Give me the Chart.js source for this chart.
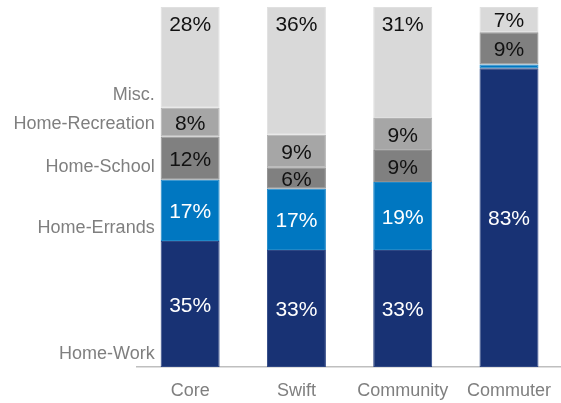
<!DOCTYPE html>
<html lang="en">
<head>
  <meta charset="UTF-8" />
  <title>Trip purpose by segment</title>
  <script src="https://cdn.jsdelivr.net/npm/chart.js"></script>
  <style>
    html, body {
      margin: 0;
      padding: 0;
      background: #fff;
      overflow: hidden;
    }
    .chart-container {
      width: 564px;
      height: 403px;
    }
  </style>
</head>
<body>

  <div class="chart-container">
    <canvas id="tripChart"></canvas>
  </div>

<script>
  // categories and series (percent of trips)
  const segments = ['Core', 'Swift', 'Community', 'Commuter'];
  const purposes = ['Home-Work', 'Home-Errands', 'Home-School', 'Home-Recreation', 'Misc.'];

  const homeWork       = [35, 32.5, 32.5, 83];
  const homeErrands    = [17, 17, 18.9, 1];
  const homeSchool     = [12, 6, 8.9, 9];
  const homeRecreation = [8, 9, 8.9, 0];
  const misc           = [28, 35.5, 30.8, 7];

  const colors = ['#183274', '#0077c1', '#808080', '#a6a6a6', '#d9d9d9'];
  const edgeColors = ['#2f4784', '#1f88c8', '#8f8f8f', '#b2b2b2', '#e0e0e0'];
  const textColors = ['#ffffff', '#ffffff', '#111111', '#111111', '#111111'];

  const series = [homeWork, homeErrands, homeSchool, homeRecreation, misc];

  const fontFamily = 'Arial, "Liberation Sans", sans-serif';

  // draws the % labels inside the bars and the purpose names left of the first bar
  const labelPlugin = {
    id: 'segmentLabels',
    afterDatasetsDraw(chart) {
      const ctx = chart.ctx;
      ctx.save();
      chart.data.datasets.forEach((ds, i) => {
        const meta = chart.getDatasetMeta(i);
        meta.data.forEach((bar, j) => {
          const v = ds.data[j];
          if (v < 3) return;
          const top = Math.min(bar.y, bar.base);
          const bottom = Math.max(bar.y, bar.base);
          let y = (top + bottom) / 2 + 2;
          if (i === series.length - 1) y = Math.min(y, top + 18);
          ctx.font = '21px ' + fontFamily;
          ctx.fillStyle = textColors[i];
          ctx.textAlign = 'center';
          ctx.textBaseline = 'middle';
          ctx.fillText(Math.round(v) + '%', bar.x, y);
        });

        // series name next to the Core bar
        const first = meta.data[0];
        ctx.font = '18px ' + fontFamily;
        ctx.fillStyle = '#7f7f7f';
        ctx.textAlign = 'right';
        ctx.textBaseline = 'middle';
        ctx.fillText(ds.label, first.x - first.width / 2 - 6, Math.max(first.y, first.base) - 13);
      });
      ctx.restore();
    }
  };

  function criarGrafico(ctx) {
    return new Chart(ctx, {
      type: 'bar',
      data: {
        labels: segments,
        datasets: purposes.map((name, i) => ({
          label: name,
          data: series[i],
          backgroundColor: colors[i],
          borderColor: edgeColors[i],
          borderWidth: 1,
          borderSkipped: false,
          categoryPercentage: 1,
          barPercentage: 0.555
        }))
      },
      options: {
        responsive: true,
        maintainAspectRatio: false,
        animation: false,
        layout: {
          padding: { left: 137, top: 7, right: 0, bottom: 0 }
        },
        plugins: {
          legend: { display: false },
          tooltip: { enabled: false }
        },
        scales: {
          x: {
            stacked: true,
            grid: { display: false, drawTicks: false },
            border: { color: '#bfbfbf', width: 1.5 },
            ticks: {
              color: '#7f7f7f',
              padding: 13,
              font: { size: 18, family: fontFamily }
            },
            afterFit(axis) {
              axis.height = 36;
            }
          },
          y: {
            stacked: true,
            min: 0,
            max: 100,
            display: false
          }
        }
      },
      plugins: [labelPlugin]
    });
  }

  criarGrafico(document.getElementById('tripChart').getContext('2d'));
</script>
</body>
</html>
